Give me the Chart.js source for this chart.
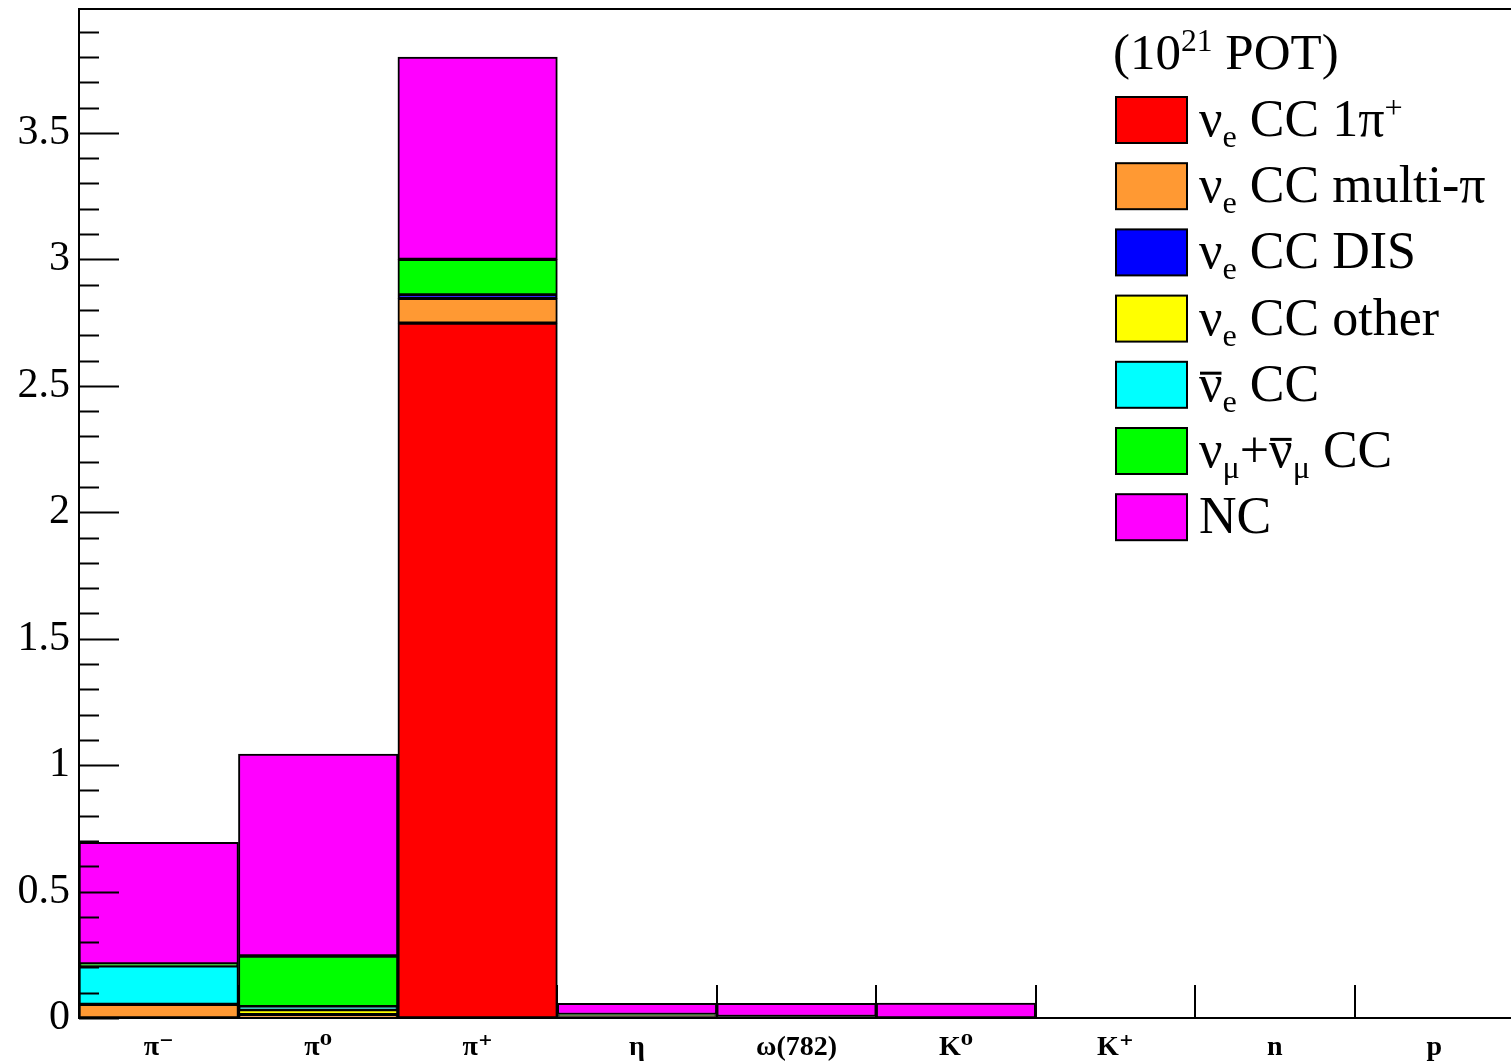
<!DOCTYPE html>
<html>
<head>
<meta charset="utf-8">
<script src="https://cdn.jsdelivr.net/npm/chart.js@4.4.0/dist/chart.umd.min.js"></script>
<style>
html, body { margin: 0; padding: 0; background: #fff; overflow: hidden; }
#wrap { width: 1516px; height: 1063px; position: relative; }
</style>
</head>
<body>
<div id="wrap"><canvas id="myChart"></canvas></div>
<script>
// bins (parent particle)
const categories = ['π⁻', 'π⁰', 'π⁺', 'η', 'ω(782)', 'K⁰', 'K⁺', 'n', 'p'];

// stacked contributions, 10^21 POT
const nueCC1pi     = [0,     0,     2.748, 0.006, 0,     0,     0, 0, 0];
const nueCCmultipi = [0.054, 0.013, 0.098, 0.004, 0,     0,     0, 0, 0];
const nueCCdis     = [0,     0,     0.013, 0,     0,     0,     0, 0, 0];
const nueCCother   = [0,     0.020, 0,     0,     0,     0,     0, 0, 0];
const nuebarCC     = [0.152, 0.012, 0,     0,     0,     0,     0, 0, 0];
const numuCC       = [0.008, 0.200, 0.141, 0.004, 0.006, 0,     0, 0, 0];
const ncBkg        = [0.481, 0.799, 0.800, 0.044, 0.052, 0.059, 0, 0, 0];

const yTicks = [0, 0.5, 1, 1.5, 2, 2.5, 3, 3.5];

const serif = '"Liberation Serif", "DejaVu Serif", serif';

// legend rows: [text, style] pieces
const legendItems = [
  { color: '#ff0000', parts: [['ν'], ['e', 'sub'], [' CC 1π'], ['+', 'sup']] },
  { color: '#ff9933', parts: [['ν'], ['e', 'sub'], [' CC multi-π']] },
  { color: '#0000ff', parts: [['ν'], ['e', 'sub'], [' CC DIS']] },
  { color: '#ffff00', parts: [['ν'], ['e', 'sub'], [' CC other']] },
  { color: '#00ffff', parts: [['ν', 'bar'], ['e', 'sub'], [' CC']] },
  { color: '#00ff00', parts: [['ν'], ['μ', 'sub'], ['+'], ['ν', 'bar'], ['μ', 'sub'], [' CC']] },
  { color: '#ff00ff', parts: [['NC']] }
];
const legendTitle = [['(10'], ['21', 'sup'], [' POT)']];

function drawRich(ctx, parts, x, y, size) {
  ctx.textBaseline = 'alphabetic';
  ctx.textAlign = 'left';
  parts.forEach(p => {
    let s = size, dy = 0;
    if (p[1] == 'sub') { s = size * 0.62; dy = 11; }
    if (p[1] == 'sup') { s = size * 0.62; dy = -18; }
    ctx.font = s + 'px ' + serif;
    ctx.fillStyle = '#000';
    ctx.fillText(p[0], x, y + dy);
    let w = ctx.measureText(p[0]).width;
    if (p[1] == 'bar') {
      ctx.fillRect(x + 1, y - size * 0.56, w - 2, 3);
    }
    x += w;
  });
}

const rootFrame = {
  id: 'rootFrame',
  afterDatasetsDraw(chart) {
    const ctx = chart.ctx;
    const a = chart.chartArea;
    const ys = chart.scales.y, xs = chart.scales.x;
    ctx.save();
    ctx.strokeStyle = '#000';
    ctx.lineWidth = 2;
    // y ticks drawn inside the frame
    for (let i = 0; i <= 39; i++) {
      const v = i / 10;
      const py = Math.round(ys.getPixelForValue(v)) + 0.5;
      const len = (i % 5 == 0) ? 40 : 20;
      ctx.beginPath();
      ctx.moveTo(a.left, py);
      ctx.lineTo(a.left + len, py);
      ctx.stroke();
    }
    // x bin edges
    for (let i = 0; i < categories.length - 1; i++) {
      const px = Math.round((xs.getPixelForValue(i) + xs.getPixelForValue(i + 1)) / 2);
      ctx.beginPath();
      ctx.moveTo(px, a.bottom);
      ctx.lineTo(px, a.bottom - 33);
      ctx.stroke();
    }
    // frame
    ctx.strokeRect(a.left, a.top, a.right - a.left, a.bottom - a.top);
    ctx.restore();

    // legend
    const lx = a.right - 398, ly = a.top + 88;
    ctx.save();
    drawRich(ctx, legendTitle, lx - 3, a.top + 60, 51);
    legendItems.forEach((it, i) => {
      const cy = ly + i * 66.2;
      ctx.fillStyle = it.color;
      ctx.fillRect(lx, cy, 71, 46);
      ctx.strokeStyle = '#000';
      ctx.lineWidth = 2;
      ctx.strokeRect(lx, cy, 71, 46);
      drawRich(ctx, it.parts, lx + 83, cy + 39, 52);
    });
    ctx.restore();
  }
};

function makeSet(label, data, color) {
  return {
    label: label,
    data: data,
    backgroundColor: color,
    borderColor: '#000',
    borderWidth: 2,
    borderSkipped: false,
    barPercentage: 1,
    categoryPercentage: 1
  };
}

const ctx = document.getElementById('myChart');

new Chart(ctx, {
  type: 'bar',
  data: {
    labels: categories,
    datasets: [
      makeSet('νe CC 1π+', nueCC1pi, '#ff0000'),
      makeSet('νe CC multi-π', nueCCmultipi, '#ff9933'),
      makeSet('νe CC DIS', nueCCdis, '#0000ff'),
      makeSet('νe CC other', nueCCother, '#ffff00'),
      makeSet('ν̄e CC', nuebarCC, '#00ffff'),
      makeSet('νμ+ν̄μ CC', numuCC, '#00ff00'),
      makeSet('NC', ncBkg, '#ff00ff')
    ]
  },
  options: {
    responsive: true,
    maintainAspectRatio: false,
    animation: false,
    layout: { padding: { top: 9, right: 2, left: 0, bottom: 0 } },
    plugins: {
      legend: { display: false },
      tooltip: { enabled: false }
    },
    scales: {
      x: {
        stacked: true,
        grid: { display: false, drawTicks: false },
        border: { display: false },
        ticks: {
          color: '#000',
          padding: 13,
          maxRotation: 0,
          font: { family: serif, size: 28, weight: 'bold' }
        },
        afterFit(scale) {
          scale.height = 45;
          scale.paddingLeft = 0;
          scale.paddingRight = 0;
        }
      },
      y: {
        stacked: true,
        min: 0,
        max: 3.99,
        afterBuildTicks(scale) { scale.ticks = yTicks.map(v => ({ value: v })); },
        grid: { display: false, drawTicks: false },
        border: { display: false },
        ticks: {
          color: '#000',
          padding: 9,
          font: { family: serif, size: 42 },
          callback: (v) => String(v)
        },
        afterFit(scale) {
          scale.width = 79;
          scale.paddingTop = 0;
          scale.paddingBottom = 0;
        }
      }
    }
  },
  plugins: [rootFrame]
});
</script>
</body>
</html>
